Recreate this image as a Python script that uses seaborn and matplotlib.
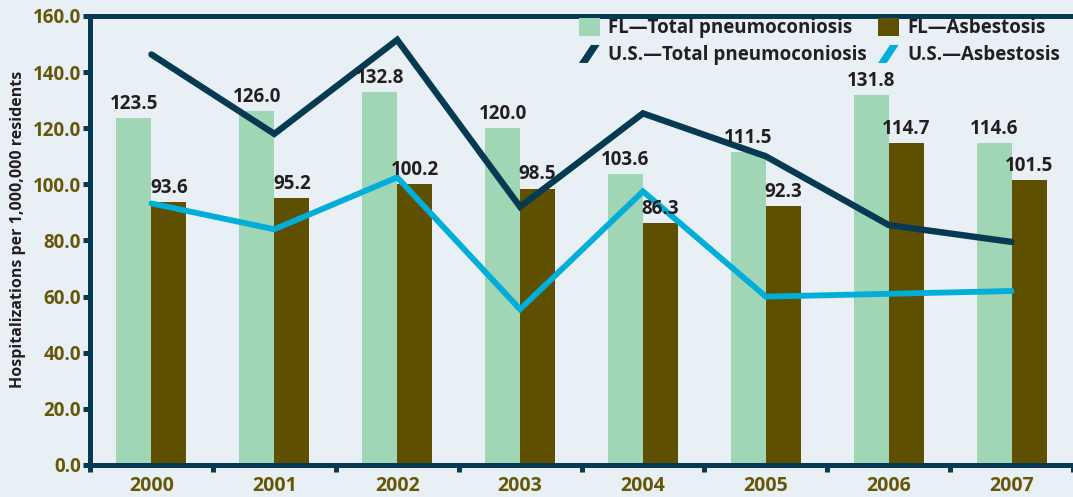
import matplotlib
matplotlib.use("Agg")
import matplotlib.pyplot as plt
import numpy as np
import pandas as pd
import seaborn as sns
from matplotlib.patches import Patch, Polygon
from matplotlib.lines import Line2D
from matplotlib.legend_handler import HandlerBase

# ---- data ----
years = ["2000", "2001", "2002", "2003", "2004", "2005", "2006", "2007"]
fl_total = [123.5, 126.0, 132.8, 120.0, 103.6, 111.5, 131.8, 114.6]
fl_asb = [93.6, 95.2, 100.2, 98.5, 86.3, 92.3, 114.7, 101.5]
us_total = [146.3, 118.0, 151.5, 92.0, 125.3, 110.0, 85.5, 79.5]
us_asb = [93.2, 84.0, 102.5, 55.5, 97.5, 60.0, 61.0, 62.0]
series_names = ["FL\u2014Total pneumoconiosis", "FL\u2014Asbestosis",
                "U.S.\u2014Total pneumoconiosis", "U.S.\u2014Asbestosis"]
yticks = [0, 20, 40, 60, 80, 100, 120, 140, 160]

# ---- colours ----
bg = "#e8f0f6"
light_green = "#a0d5b6"
olive = "#5f4f00"
navy = "#063a52"
cyan = "#00aed9"
tick_col = "#665708"
text_col = "#231f20"

sns.set_theme(style="white")
plt.rcParams["font.family"] = ["Open Sans", "DejaVu Sans"]

fig = plt.figure(figsize=(10.73, 4.97), dpi=100, facecolor=bg)
ax = fig.add_axes([90 / 1073, 32 / 497, (1073 - 90) / 1073, 449 / 497])
ax.set_facecolor(bg)

df = pd.DataFrame({
    "Year": years * 2,
    "Value": fl_total + fl_asb,
    "Series": [series_names[0]] * len(years) + [series_names[1]] * len(years),
})
sns.barplot(data=df, x="Year", y="Value", hue="Series",
            palette=[light_green, olive], width=0.57, saturation=1,
            legend=False, ax=ax, zorder=2, linewidth=0, edgecolor="none")

pos = np.arange(len(years))
sns.lineplot(x=pos, y=us_total, color=navy, lw=4.6, ax=ax, zorder=3,
             solid_joinstyle="miter")
sns.lineplot(x=pos, y=us_asb, color=cyan, lw=4.2, ax=ax, zorder=3,
             solid_joinstyle="miter")

for cont in ax.containers:
    ax.bar_label(cont, fmt="%.1f", padding=3, fontsize=13.5,
                 fontweight="bold", color=text_col, zorder=5)

ax.set_xlim(-0.5, len(years) - 0.5)
ax.set_ylim(0, 160)
ax.set_yticks(yticks)
ax.set_yticklabels([f"{v:.1f}" for v in yticks])
ax.set_xticks(pos)
ax.set_xticklabels(years)
ax.set_xticks(np.arange(-0.5, len(years), 1.0), minor=True)

ax.tick_params(axis="x", which="major", length=0, pad=8, labelsize=14,
               labelcolor=tick_col)
ax.tick_params(axis="x", which="minor", length=5, width=3.6, color=navy,
               direction="out", bottom=True)
ax.tick_params(axis="y", which="major", length=5, width=3.6, color=navy,
               direction="out", pad=1.5, labelsize=13.5, labelcolor=tick_col,
               left=True)
for lab in ax.get_xticklabels() + ax.get_yticklabels():
    lab.set_fontweight("bold")

for side in ["left", "bottom", "top"]:
    ax.spines[side].set_visible(True)
    ax.spines[side].set_color(navy)
    ax.spines[side].set_linewidth(3.6)
ax.spines["right"].set_visible(False)

ax.set_xlabel("")
ax.set_ylabel("Hospitalizations per 1,000,000 residents", fontsize=11.5,
              fontweight="bold", color=text_col)
ax.yaxis.set_label_coords(-0.065, 0.525)
ax.grid(False)


class SlantHandler(HandlerBase):
    def create_artists(self, legend, orig_handle, xdescent, ydescent,
                       width, height, fontsize, trans):
        x0, y0 = -xdescent, -ydescent
        pts = [[x0, y0], [x0 + 0.42 * width, y0],
               [x0 + width, y0 + height], [x0 + 0.58 * width, y0 + height]]
        p = Polygon(pts, closed=True, facecolor=orig_handle.get_color(),
                    edgecolor="none", transform=trans)
        return [p]


handles = [Patch(facecolor=light_green, edgecolor="none"),
           Line2D([], [], color=navy),
           Patch(facecolor=olive, edgecolor="none"),
           Line2D([], [], color=cyan)]
labels = [series_names[0], series_names[2], series_names[1], series_names[3]]
leg = fig.legend(handles, labels, ncol=2, loc="upper right",
                 bbox_to_anchor=(1060 / 1073, 1 - 18 / 497),
                 frameon=False, fontsize=13.5, handlelength=1.1,
                 handleheight=1.1, handletextpad=0.45, columnspacing=0.6,
                 labelspacing=0.35, borderpad=0, borderaxespad=0,
                 handler_map={Line2D: SlantHandler()})
for t in leg.get_texts():
    t.set_fontweight("bold")
    t.set_color(text_col)

fig.savefig("out.png", dpi=100, facecolor=bg)
